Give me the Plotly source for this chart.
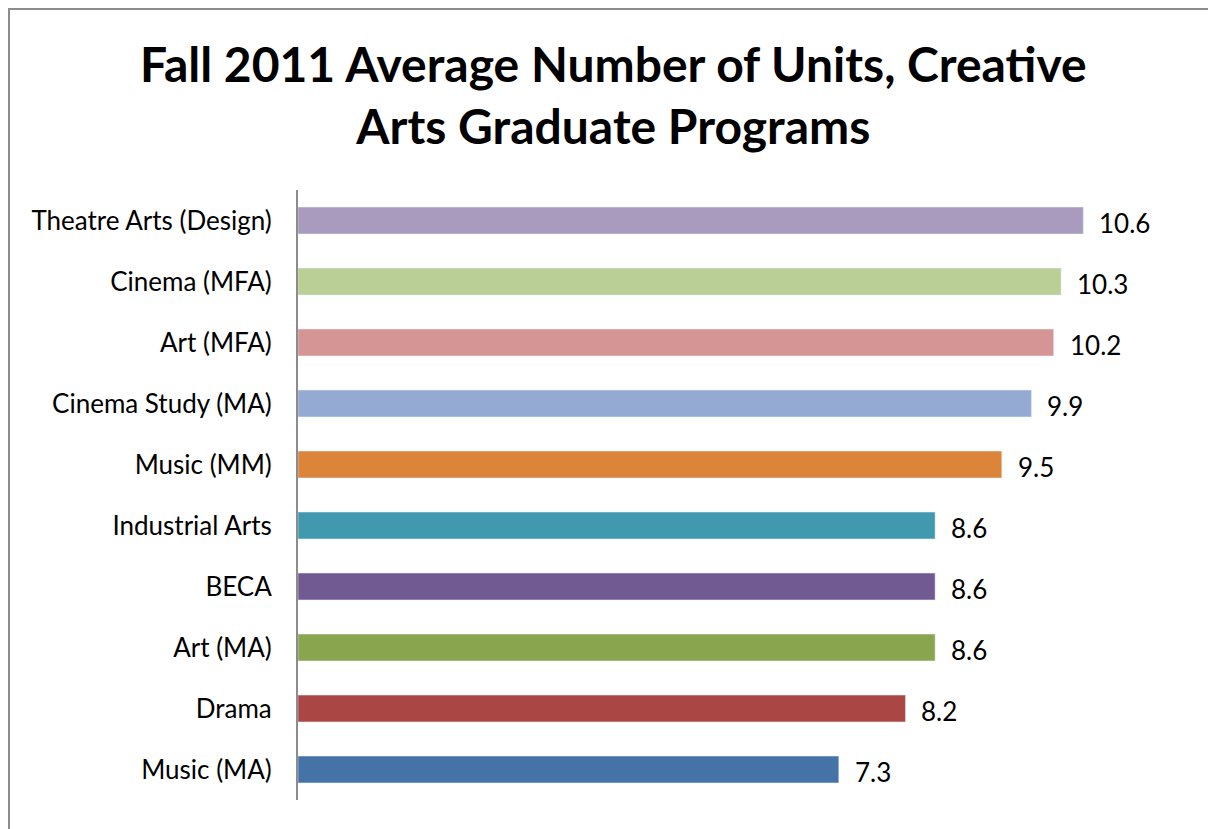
import plotly.graph_objects as go

# data, bottom to top
programs = ["Music (MA)", "Drama", "Art (MA)", "BECA", "Industrial Arts",
            "Music (MM)", "Cinema Study (MA)", "Art (MFA)", "Cinema (MFA)",
            "Theatre Arts (Design)"]
avg_units = [7.3, 8.2, 8.6, 8.6, 8.6, 9.5, 9.9, 10.2, 10.3, 10.6]
bar_colors = ["#4573A7", "#AA4644", "#89A54E", "#715992", "#4199AF",
              "#DD843B", "#95AAD3", "#D69595", "#B9CF96", "#A99BBD"]

# the page body has an 8px margin, so the figure sits at (8, 8)
W, H = 1208, 821
left, right, top, bottom = 290, 29, 182, 29
plot_w = W - left - right
plot_h = H - top - bottom

fig = go.Figure(go.Bar(
    x=avg_units,
    y=programs,
    orientation="h",
    marker_color=bar_colors,
    width=0.44,
    cliponaxis=False,
))

# value labels, set a little away from the bar ends
for v, p in zip(avg_units, programs):
    fig.add_annotation(x=v, y=p, text=f"{v:.1f}", showarrow=False,
                       xanchor="left", yanchor="middle", xshift=14, yshift=-2,
                       font=dict(family="Lato", size=26, color="#000000"))

# title
fig.add_annotation(xref="paper", yref="paper",
                   x=(605 - left) / plot_w, y=(H - bottom - 87) / plot_h,
                   xanchor="center", yanchor="middle", showarrow=False,
                   text="<b>Fall 2011 Average Number of Units, Creative<br>Arts Graduate Programs</b>",
                   font=dict(family="Lato", size=48, color="#000000"))

# grey chart-area border along the figure's top and left edges
fig.add_shape(type="rect", xref="paper", yref="paper",
              x0=(1 - left) / plot_w, x1=(W + 20 - left) / plot_w,
              y0=-(bottom + 20) / plot_h, y1=(H - bottom - 1) / plot_h,
              line=dict(color="#8C8C8C", width=2), fillcolor="rgba(0,0,0,0)",
              layer="below")

fig.update_layout(
    width=W, height=H,
    margin=dict(l=left, r=right, t=top, b=bottom, autoexpand=False),
    paper_bgcolor="white", plot_bgcolor="white",
    showlegend=False,
    xaxis=dict(range=[0, 12], visible=False, fixedrange=True),
    yaxis=dict(showline=True, linecolor="#8C8C8C", linewidth=2,
               showgrid=False, ticks="", ticklabelstandoff=19, automargin=False,
               tickfont=dict(family="Lato", size=26, color="#000000")),
)

fig.write_html("out.html")
